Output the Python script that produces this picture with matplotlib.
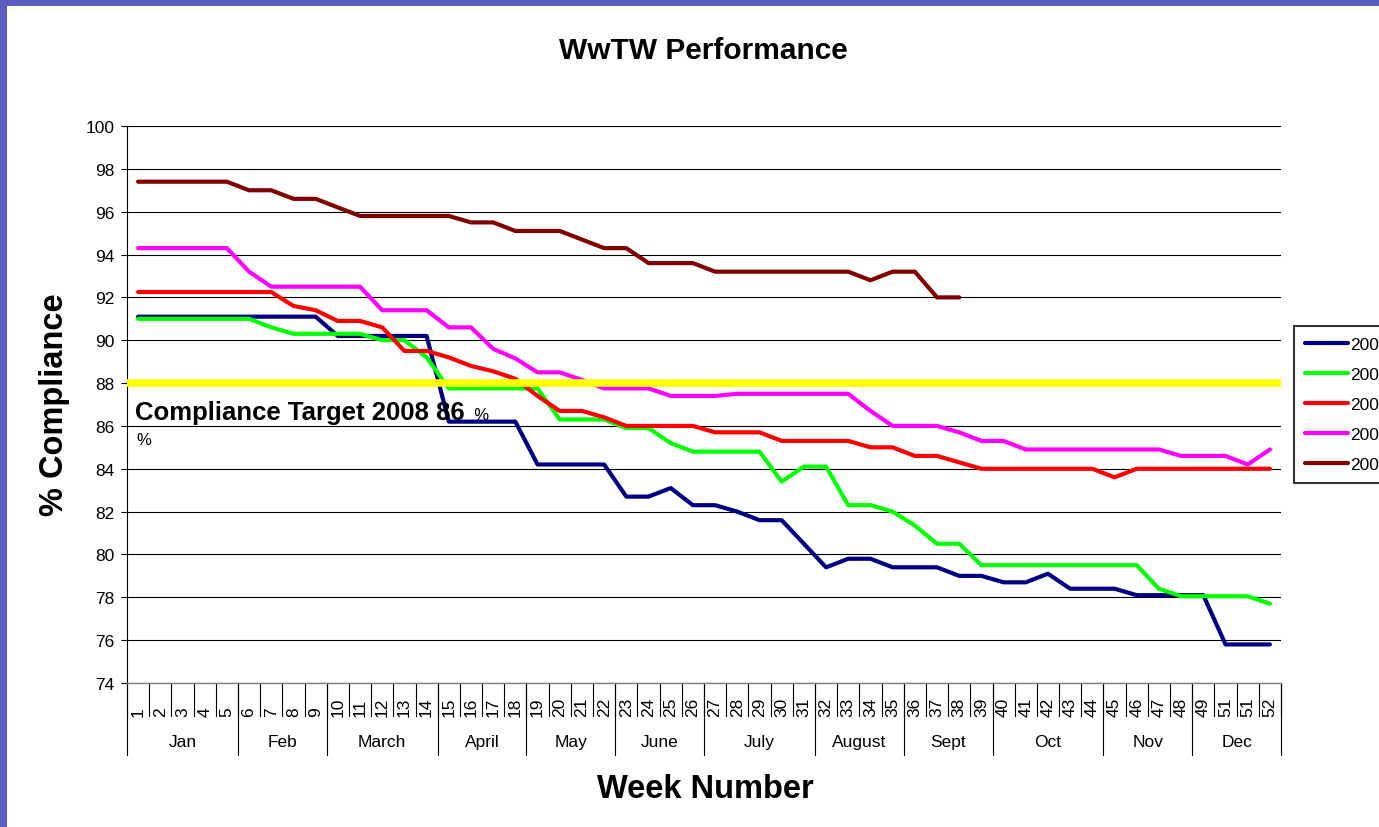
import matplotlib
matplotlib.use("Agg")
import matplotlib.pyplot as plt
import matplotlib.transforms as mtransforms
from matplotlib.patches import Rectangle

plt.rcParams['font.family'] = ['Liberation Sans', 'DejaVu Sans']

# ---------------- data ----------------
week_labels = [str(i) for i in range(1, 50)] + ["51", "51", "52"]
months = ["Jan", "Feb", "March", "April", "May", "June", "July", "August",
          "Sept", "Oct", "Nov", "Dec"]
month_weeks = [5, 4, 5, 4, 4, 4, 5, 4, 4, 5, 4, 4]

series_names = ["2004", "2005", "2006", "2007", "2008"]
series_colors = ["#000080", "#00FF00", "#FF0000", "#FF00FF", "#800000"]

y2004 = [91.1, 91.1, 91.1, 91.1, 91.1, 91.1, 91.1, 91.1, 91.1, 90.2,
         90.2, 90.2, 90.2, 90.2, 86.2, 86.2, 86.2, 86.2, 84.2, 84.2,
         84.2, 84.2, 82.7, 82.7, 83.1, 82.3, 82.3, 82.0, 81.6, 81.6,
         80.5, 79.4, 79.8, 79.8, 79.4, 79.4, 79.4, 79.0, 79.0, 78.7,
         78.7, 79.1, 78.4, 78.4, 78.4, 78.1, 78.1, 78.1, 78.1, 75.8,
         75.8, 75.8]
y2005 = [91.0, 91.0, 91.0, 91.0, 91.0, 91.0, 90.6, 90.3, 90.3, 90.3,
         90.3, 90.0, 90.0, 89.2, 87.75, 87.75, 87.75, 87.75, 87.75, 86.3,
         86.3, 86.3, 85.9, 85.9, 85.2, 84.8, 84.8, 84.8, 84.8, 83.4,
         84.1, 84.1, 82.3, 82.3, 82.0, 81.35, 80.5, 80.5, 79.5, 79.5,
         79.5, 79.5, 79.5, 79.5, 79.5, 79.5, 78.4, 78.05, 78.05, 78.05,
         78.05, 77.7]
y2006 = [92.25, 92.25, 92.25, 92.25, 92.25, 92.25, 92.25, 91.6, 91.4, 90.9,
         90.9, 90.6, 89.5, 89.5, 89.2, 88.8, 88.55, 88.2, 87.4, 86.7,
         86.7, 86.4, 86.0, 86.0, 86.0, 86.0, 85.7, 85.7, 85.7, 85.3,
         85.3, 85.3, 85.3, 85.0, 85.0, 84.6, 84.6, 84.3, 84.0, 84.0,
         84.0, 84.0, 84.0, 84.0, 83.6, 84.0, 84.0, 84.0, 84.0, 84.0,
         84.0, 84.0]
y2007 = [94.3, 94.3, 94.3, 94.3, 94.3, 93.2, 92.5, 92.5, 92.5, 92.5,
         92.5, 91.4, 91.4, 91.4, 90.6, 90.6, 89.6, 89.15, 88.5, 88.5,
         88.15, 87.75, 87.75, 87.75, 87.4, 87.4, 87.4, 87.5, 87.5, 87.5,
         87.5, 87.5, 87.5, 86.7, 86.0, 86.0, 86.0, 85.7, 85.3, 85.3,
         84.9, 84.9, 84.9, 84.9, 84.9, 84.9, 84.9, 84.6, 84.6, 84.6,
         84.2, 84.9]
y2008 = [97.4, 97.4, 97.4, 97.4, 97.4, 97.0, 97.0, 96.6, 96.6, 96.2,
         95.8, 95.8, 95.8, 95.8, 95.8, 95.5, 95.5, 95.1, 95.1, 95.1,
         94.7, 94.3, 94.3, 93.6, 93.6, 93.6, 93.2, 93.2, 93.2, 93.2,
         93.2, 93.2, 93.2, 92.8, 93.2, 93.2, 92.0, 92.0]
series_values = [y2004, y2005, y2006, y2007, y2008]

target = 88.0
y_ticks = list(range(74, 101, 2))

# ---------------- figure ----------------
W, H = 1379, 828
fig = plt.figure(figsize=(W / 100, H / 100), dpi=100)
fig.patch.set_facecolor("white")

# purple frame strips (top and left)
fig.patches.append(Rectangle((0, 1 - 7 / H), 1, 7 / H, transform=fig.transFigure,
                             facecolor="#5C5EBF", edgecolor="none", zorder=0))
fig.patches.append(Rectangle((0, 0), 7 / W, 1, transform=fig.transFigure,
                             facecolor="#5C5EBF", edgecolor="none", zorder=0))

ax_l, ax_r, ax_t, ax_b = 127, 1281, 127, 684
ax = fig.add_axes([ax_l / W, 1 - ax_b / H, (ax_r - ax_l) / W, (ax_b - ax_t) / H])
ax.set_facecolor("white")

n = len(week_labels)
x_all = list(range(1, n + 1))

ax.set_xlim(0.5, n + 0.5)
ax.set_ylim(74, 100)

# grid
ax.set_yticks(y_ticks)
ax.yaxis.grid(True, color="black", linewidth=0.8, zorder=0)
ax.set_axisbelow(True)
ax.tick_params(axis="y", direction="out", length=4, width=0.8, labelsize=12.5, pad=5)
ax.set_xticks([])
for s in ["top", "right"]:
    ax.spines[s].set_visible(False)
ax.spines["left"].set_color("black")
ax.spines["left"].set_linewidth(0.8)
ax.spines["bottom"].set_color("#808080")
ax.spines["bottom"].set_linewidth(1.0)

# series
handles = []
for name, col, vals in zip(series_names, series_colors, series_values):
    h, = ax.plot(x_all[:len(vals)], vals, color=col, linewidth=3.0, label=name,
                 solid_joinstyle="round", solid_capstyle="round", zorder=3)
    handles.append(h)

# target line
ax.axhline(target, color="#FFFF00", linewidth=5.5, zorder=4)

# target annotation
t1 = ax.text(0.86, 86.32, "Compliance Target 2008 86", fontsize=18.5,
             fontweight="bold", va="baseline", ha="left", zorder=6)
ax.annotate("  %", xy=(1, 0.08), xycoords=t1, va="bottom", ha="left",
            fontsize=12, zorder=6)
ax.text(0.9, 85.15, "%", fontsize=12, va="baseline", ha="left", zorder=6)

# category axis (weeks + months)
trans = mtransforms.blended_transform_factory(ax.transData, ax.transAxes)
ax_h = ax_b - ax_t
week_sep = -(717 - ax_b) / ax_h
month_sep = -(756 - ax_b) / ax_h
for i in range(n + 1):
    ax.plot([i + 0.5, i + 0.5], [0, week_sep], color="black", linewidth=0.8,
            transform=trans, clip_on=False)
for x, lab in zip(x_all, week_labels):
    ax.text(x, week_sep, lab, rotation=90, ha="center", va="bottom",
            fontsize=12.5, transform=trans, clip_on=False)

start = 0.5
for m, nw in zip(months, month_weeks):
    ax.plot([start, start], [0, month_sep], color="black", linewidth=0.8,
            transform=trans, clip_on=False)
    ax.text(start + nw / 2, -(743 - ax_b) / ax_h, m, ha="center", va="center",
            fontsize=12.5, transform=trans, clip_on=False)
    start += nw
ax.plot([start, start], [0, month_sep], color="black", linewidth=0.8,
        transform=trans, clip_on=False)

# titles
fig.text(703 / W, 1 - 51 / H, "WwTW Performance", fontsize=21.5, fontweight="bold",
         ha="center", va="center")
fig.text(705 / W, 1 - 790 / H, "Week Number", fontsize=23.5, fontweight="bold",
         ha="center", va="center")
fig.text(55 / W, 1 - 405 / H, "% Compliance", fontsize=23.5, fontweight="bold",
         ha="center", va="center", rotation=90)

# legend (partially cut at the right edge as in the reference)
leg = fig.legend(handles=handles, labels=series_names, loc="upper left",
                 bbox_to_anchor=(1294 / W, 1 - 327 / H), fontsize=12.5,
                 frameon=True, fancybox=False, shadow=False, borderpad=0.62,
                 handlelength=2.5, handletextpad=0.1, labelspacing=0.86,
                 borderaxespad=0)
leg.get_frame().set_edgecolor("black")
leg.get_frame().set_linewidth(1.5)

fig.savefig("out.png", dpi=100)
